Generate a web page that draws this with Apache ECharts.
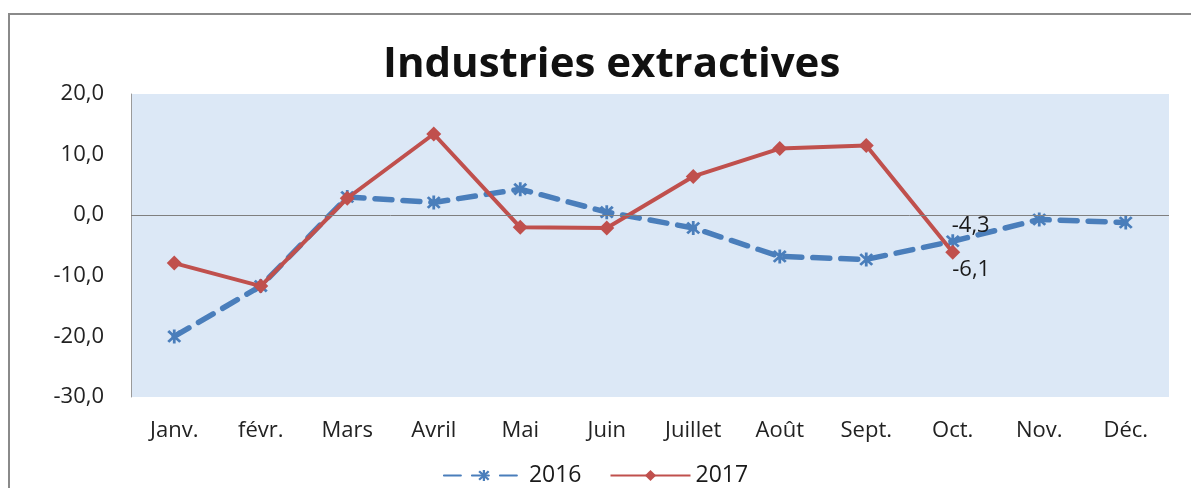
<!DOCTYPE html>
<html>
<head>
<meta charset="utf-8">
<script src="https://cdn.jsdelivr.net/npm/echarts@6/dist/echarts.min.js"></script>
<style>
  html, body { margin: 0; padding: 0; background: #ffffff; }
  #chart { width: 1191px; height: 488px; }
</style>
</head>
<body>
<div id="chart"></div>
<script>
// Monthly change (%) for extractive industries
const months = ['Janv.', 'févr.', 'Mars', 'Avril', 'Mai', 'Juin', 'Juillet', 'Août', 'Sept.', 'Oct.', 'Nov.', 'Déc.'];
const values2016 = [-20.0, -11.7, 3.0, 2.1, 4.3, 0.5, -2.1, -6.8, -7.3, -4.3, -0.7, -1.2];
const values2017 = [-7.9, -11.7, 2.8, 13.4, -2.0, -2.1, 6.4, 11.0, 11.5, -6.1];
const yTicks = { min: -30, max: 20, interval: 10 };
const labelledIndex = 9; // only October carries a value label

const fmt = v => v.toFixed(1).replace('.', ',');
const FONT = '"Open Sans", "Noto Sans", sans-serif';

// asterisk marker built from three crossing bars
const asterisk = 'path://M4.1,0 L5.9,0 L5.9,10 L4.1,10 Z ' +
  'M0.5,1.8 L1.8,0.5 L9.5,8.2 L8.2,9.5 Z ' +
  'M8.2,0.5 L9.5,1.8 L1.8,9.5 L0.5,8.2 Z';

function withLabels(arr, offset) {
  return arr.map((v, i) => i === labelledIndex
    ? { value: v, label: { show: true, position: 'right', offset: offset, formatter: p => fmt(p.value) } }
    : v);
}

const chart = echarts.init(document.getElementById('chart'), null, { renderer: 'canvas' });
chart.setOption({
  backgroundColor: '#ffffff',
  animation: false,
  graphic: [{
    type: 'rect',
    shape: { x: 9, y: 14, width: 1200, height: 500 },
    style: { fill: 'none', stroke: '#8a8a8a', lineWidth: 2 },
    silent: true,
    z: -1
  }],
  title: {
    text: 'Industries extractives',
    left: 378,
    top: 39,
    textStyle: { fontFamily: FONT, fontWeight: 'bold', fontSize: 42, color: '#111111' }
  },
  grid: {
    left: 131, right: 22, top: 94, bottom: 91,
    show: true,
    backgroundColor: '#dce8f6',
    borderWidth: 0
  },
  legend: {
    bottom: -4,
    left: 'center',
    itemWidth: 80,
    itemHeight: 14,
    itemGap: 28,
    textStyle: { fontFamily: FONT, fontSize: 23, color: '#1a1a1a' },
    data: ['2016', '2017']
  },
  xAxis: {
    type: 'category',
    data: months,
    boundaryGap: true,
    axisLine: { show: false, onZero: false },
    axisTick: { show: false },
    axisLabel: { fontFamily: FONT, fontSize: 22, color: '#222222', margin: 23 }
  },
  yAxis: {
    type: 'value',
    min: yTicks.min,
    max: yTicks.max,
    interval: yTicks.interval,
    axisLine: { show: true, lineStyle: { color: '#9a9a9a', width: 1 } },
    axisTick: { show: false },
    splitLine: { show: false },
    axisLabel: { fontFamily: FONT, fontSize: 22, color: '#222222', margin: 27, formatter: v => fmt(v) }
  },
  series: [
    {
      name: '2016',
      type: 'line',
      data: withLabels(values2016, [-13, -16]),
      symbol: asterisk,
      symbolSize: 14,
      lineStyle: { color: '#4a7ebb', width: 5.5, type: [17, 11], cap: 'round' },
      itemStyle: { color: '#4a7ebb' },
      label: { fontFamily: FONT, fontSize: 22, color: '#1a1a1a' },
      z: 2,
      markLine: {
        silent: true,
        symbol: 'none',
        label: { show: false },
        lineStyle: { color: '#7f7f7f', width: 1, type: 'solid' },
        data: [{ yAxis: 0 }]
      }
    },
    {
      name: '2017',
      type: 'line',
      data: withLabels(values2017, [-13, 18]),
      symbol: 'diamond',
      symbolSize: 15,
      lineStyle: { color: '#c0504d', width: 4 },
      itemStyle: { color: '#c0504d' },
      label: { fontFamily: FONT, fontSize: 22, color: '#1a1a1a' },
      z: 3
    }
  ]
});
</script>
</body>
</html>
